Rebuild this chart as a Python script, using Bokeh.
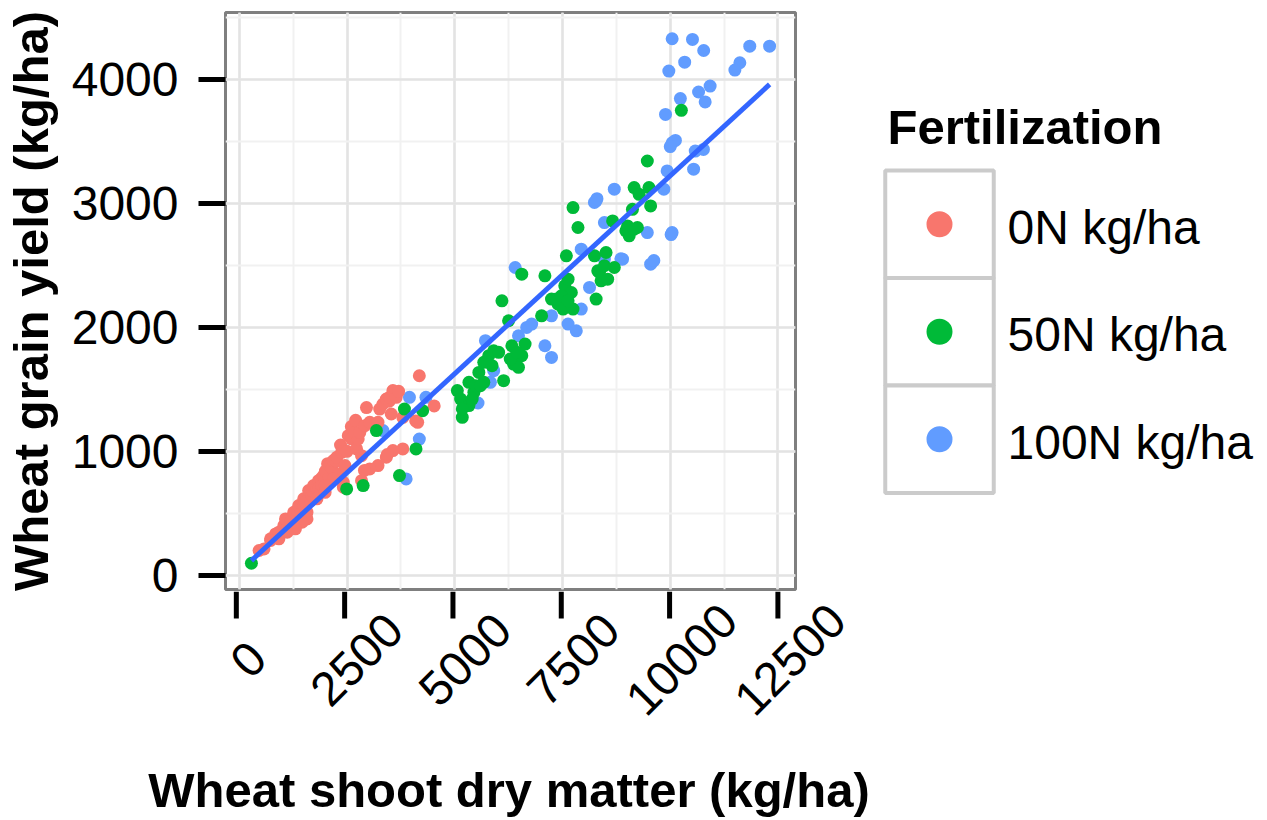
import numpy as np
from math import pi
from bokeh.plotting import figure
from bokeh.layouts import row, column
from bokeh.models import Range1d, SingleIntervalTicker, ColumnDataSource
from bokeh.core.properties import value
from bokeh.embed import file_html
from bokeh.resources import INLINE

FONT = "Liberation Sans"

categories = ["0N kg/ha", "50N kg/ha", "100N kg/ha"]
palette = ["#F8766D", "#00BA38", "#619CFF"]
x_title = "Wheat shoot dry matter (kg/ha)"
y_title = "Wheat grain yield (kg/ha)"
legend_title = "Fertilization"
x_ticks = [0, 2500, 5000, 7500, 10000, 12500]
x_tick_labels = ["0", "2500", "5000", "7500", "10000", "12500"]
x_tick_step = 2500
y_tick_step = 1000

# 0N kg/ha
x_0N = [460, 575, 728, 843, 920, 1035, 1073, 1112, 1188, 1265,
        1303, 1350, 1380, 1418, 1457, 1495, 1500, 1533, 1572, 1610,
        1650, 1687, 1700, 1725, 1802, 1840, 1850, 1900, 1917, 1955,
        1993, 2000, 2050, 2070, 2108, 2150, 2185, 2250, 2262, 2300,
        2350, 2377, 2415, 2453, 2500, 2530, 2600, 2607, 2683, 2700,
        2722, 2760, 2798, 2837, 2913, 2952, 3028, 3220, 3258, 3335,
        3412, 3478, 3488, 3527, 3565, 3642, 3698, 3795, 4094, 4140,
        4178, 4523, 3795, 3565, 3412, 3220, 3028, 2837, 2415, 2185,
        1993, 1802, 1572, 1457, 1303, 1112, 920, 728, 2905, 3434]
y_0N = [199, 212, 293, 333, 347, 401, 454, 374, 427, 508,
        401, 520, 562, 494, 454, 616, 560, 589, 508, 683,
        600, 643, 680, 723, 696, 763, 700, 780, 723, 804,
        669, 840, 900, 777, 885, 860, 925, 920, 952, 817,
        1050, 992, 710, 885, 1000, 1126, 1200, 1100, 1153, 1250,
        1019, 1100, 1153, 965, 1207, 1353, 1234, 1234, 1341, 1382,
        1422, 1404, 1436, 1301, 1490, 1436, 1484, 1274, 1245, 1234,
        1610, 1366, 1019, 1006, 952, 885, 858, 763, 750, 777,
        723, 616, 454, 427, 374, 347, 293, 280, 846, 974]

# 50N kg/ha
x_50N = [282, 2492, 2875, 3182, 3718, 4101, 3833, 4255, 5175, 5252,
         5060, 5137, 5329, 5444, 5559, 5482, 5674, 5674, 5789, 5904,
         6134, 6019, 6249, 6325, 6364, 6479, 6555, 6632, 6095, 6555,
         7015, 7092, 7245, 7399, 7514, 7552, 7629, 7705, 7744, 7590,
         7744, 7859, 8242, 8280, 8357, 8395, 8510, 8548, 8663, 8702,
         8970, 9047, 9162, 9238, 9277, 9468, 9507, 9545, 9123, 10258,
         5329, 5175, 5405, 5597, 5865, 6287, 6440, 7360, 7475, 7629,
         8318, 8472, 9008, 9162]
y_50N = [96, 696, 723, 1167, 804, 1019, 1341, 1328, 1274, 1369,
         1490, 1422, 1557, 1476, 1637, 1530, 1557, 1718, 1772, 1812,
         1570, 1799, 2054, 1852, 1704, 1678, 1772, 1866, 2215, 2430,
         2094, 2417, 2229, 2188, 2148, 2336, 2390, 2282, 2148, 2578,
         2968, 2807, 2578, 2229, 2444, 2376, 2605, 2390, 2860, 2484,
         2780, 2740, 3129, 2807, 3075, 3344, 3129, 2981, 2954, 3753,
         1369, 1342, 1422, 1530, 1691, 1745, 1799, 2229, 2256, 2215,
         2457, 2498, 2820, 2793]

# 100N kg/ha
x_100N = [3949, 4332, 4178, 3872, 3335, 5540, 5712, 5827, 5904, 6479,
          6670, 6785, 7092, 7245, 6402, 7245, 7629, 7820, 7935, 8127,
          7935, 8472, 8280, 8702, 8472, 8893, 9468, 9545, 9928, 10043,
          10044, 10516, 10776, 11845, 12305, 10335, 9967, 11615, 11500, 10925,
          10657, 10810, 10235, 9890, 10044, 10120, 10000, 10580, 10770, 10542,
          9851, 8241, 8300, 10020, 8855, 9620]
y_100N = [1436, 1436, 1099, 777, 1167, 1390, 1893, 1557, 1651, 1933,
          2000, 2027, 1852, 1758, 2484, 2094, 2027, 1973, 2148, 2323,
          2632, 2847, 3022, 3116, 2551, 2551, 2766, 2511, 3264, 2766,
          4331, 4325, 4236, 4271, 4271, 4142, 4070, 4137, 4078, 3949,
          3901, 3821, 3848, 3720, 3491, 3510, 3460, 3424, 3437, 3278,
          3116, 3009, 3040, 2750, 2554, 2540]

series_x = [x_0N, x_50N, x_100N]
series_y = [y_0N, y_50N, y_100N]

all_x = np.array(x_0N + x_50N + x_100N, dtype=float)
all_y = np.array(y_0N + y_50N + y_100N, dtype=float)
slope, intercept = np.polyfit(all_x, all_y, 1)
fit_x = np.array([all_x.min(), all_x.max()])
fit_y = intercept + slope * fit_x

xspan = all_x.max() - all_x.min()
yspan = all_y.max() - all_y.min()
x_start, x_end = all_x.min() - 0.05 * xspan, all_x.max() + 0.05 * xspan
y_start, y_end = all_y.min() - 0.05 * yspan, all_y.max() + 0.05 * yspan

# ---------------- layout constants (canvas pixels) ----------------
TOTAL_W, TOTAL_H = 1265, 818
LEFT_W = 878
FRAME_L, FRAME_T, FRAME_W, FRAME_H = 222, 12, 573, 577
MAIN_PAD_B = 14                 # room below the panel for the lowest y label
MAIN_H = FRAME_T + FRAME_H + MAIN_PAD_B
OVERLAP = MAIN_PAD_B - 2        # x-axis strip slides up under the panel edge
AXIS_H = TOTAL_H - MAIN_H + OVERLAP
TICK_LEN = 27
LABEL_CY = 68        # centre of x tick labels below top of axis strip
LABEL_DX = 12
TITLE_MID = 198      # vertical middle of x title below top of axis strip
ppu = FRAME_W / (x_end - x_start)

base = dict(output_backend="svg", toolbar_location=None, frame_align=False)

# ---------------- main panel ----------------
p = figure(width=LEFT_W, height=MAIN_H,
           min_border_left=FRAME_L, min_border_top=FRAME_T,
           min_border_right=LEFT_W - FRAME_L - FRAME_W,
           min_border_bottom=MAIN_PAD_B,
           x_range=Range1d(x_start, x_end), y_range=Range1d(y_start, y_end),
           x_axis_location=None, background_fill_color="white",
           border_fill_color="white", **base)
p.outline_line_color = "#7f7f7f"
p.outline_line_width = 3

p.xgrid.ticker = SingleIntervalTicker(interval=x_tick_step, num_minor_ticks=2)
p.yaxis.ticker = SingleIntervalTicker(interval=y_tick_step, num_minor_ticks=2)
p.ygrid.ticker = p.yaxis[0].ticker
for g in (p.xgrid[0], p.ygrid[0]):
    g.grid_line_color = "#e3e3e3"
    g.grid_line_width = 2.5
    g.minor_grid_line_color = "#f1f1f1"
    g.minor_grid_line_width = 2

ax = p.yaxis[0]
ax.axis_line_color = None
ax.major_tick_in = 0
ax.major_tick_out = TICK_LEN
ax.major_tick_line_width = 5
ax.major_tick_line_color = "black"
ax.minor_tick_line_color = None
ax.major_label_text_font = FONT
ax.major_label_text_font_size = "48px"
ax.major_label_text_color = "black"
ax.major_label_standoff = 20
ax.axis_label = y_title
ax.axis_label_text_font = FONT
ax.axis_label_text_font_size = "49px"
ax.axis_label_text_font_style = "bold"
ax.axis_label_text_color = "black"
ax.axis_label_standoff = 11

renderers = {}
for idx in (2, 0, 1):
    renderers[idx] = p.scatter(series_x[idx], series_y[idx], size=13,
                               fill_color=palette[idx], line_color=None)
p.line(fit_x, fit_y, line_color="#3366FF", line_width=5)

# ---------------- x axis strip (ticks, labels, title) ----------------
xa = figure(width=LEFT_W, height=AXIS_H, min_border=0,
            x_range=Range1d(x_start - FRAME_L / ppu, x_start + (LEFT_W - FRAME_L) / ppu),
            y_range=Range1d(0, AXIS_H),
            x_axis_location=None, y_axis_location=None,
            background_fill_alpha=0, border_fill_alpha=0,
            margin=(-OVERLAP, 0, 0, 0), **base)
xa.outline_line_color = None
xa.xgrid.visible = False
xa.ygrid.visible = False
xa.segment(x0=x_ticks, y0=AXIS_H, x1=x_ticks, y1=AXIS_H - TICK_LEN,
           line_color="black", line_width=5)
xa.text(x=x_ticks, y=AXIS_H - LABEL_CY, text=x_tick_labels, angle=pi / 4,
        x_offset=LABEL_DX, text_align="center", text_baseline="middle",
        text_font=value(FONT), text_font_size="48px", text_color="black")
xa.text(x=[(x_start + x_end) / 2], y=[AXIS_H - TITLE_MID], text=[x_title],
        text_align="center", text_baseline="middle",
        text_font=value(FONT), text_font_size="49px", text_font_style="bold",
        text_color="black")

# ---------------- legend ----------------
LEG_W = TOTAL_W - LEFT_W
KEY_TOP = 170        # canvas y of top edge of first key cell
KEY_H, KEY_W = 107.5, 108.5
KEY_CX = 61
LABEL_X = 129
LABEL_DY = 3
TITLE_X = 9
LEG_TITLE_MID = 126

leg = figure(width=LEG_W, height=TOTAL_H, min_border=0,
             x_range=Range1d(0, LEG_W), y_range=Range1d(0, TOTAL_H),
             x_axis_location=None, y_axis_location=None,
             background_fill_color="white", border_fill_color="white", **base)
leg.outline_line_color = None
leg.xgrid.visible = False
leg.ygrid.visible = False
leg_src = ColumnDataSource(dict(
    label=categories, color=palette,
    y=[TOTAL_H - (KEY_TOP + (i + 0.5) * KEY_H) for i in range(len(categories))]))
leg.rect(x=KEY_CX, y="y", width=KEY_W, height=KEY_H, source=leg_src,
         fill_color="white", line_color="#cbcbcb", line_width=4)
leg.scatter(x=KEY_CX, y="y", size=26, fill_color="color", line_color=None, source=leg_src)
leg.text(x=LABEL_X, y="y", text="label", source=leg_src, y_offset=LABEL_DY,
         text_align="left", text_baseline="middle",
         text_font=value(FONT), text_font_size="48px", text_color="black")
leg.text(x=[TITLE_X], y=[TOTAL_H - LEG_TITLE_MID], text=[legend_title],
         text_align="left", text_baseline="middle",
         text_font=value(FONT), text_font_size="49px", text_font_style="bold",
         text_color="black")

layout = row(column(p, xa), leg)
open("out.html", "w").write(file_html(layout, INLINE))
